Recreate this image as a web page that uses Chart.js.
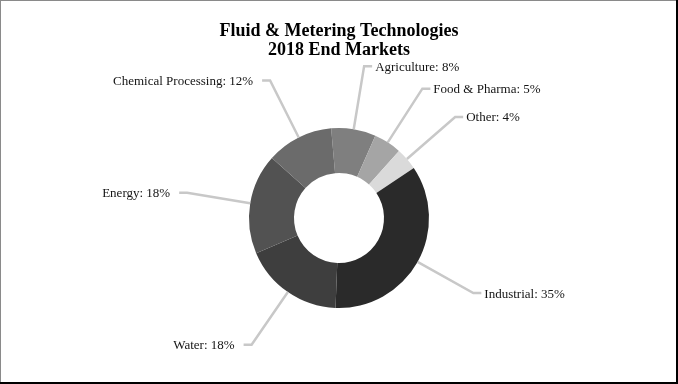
<!DOCTYPE html>
<html>
<head>
<meta charset="utf-8">
<script src="https://cdn.jsdelivr.net/npm/chart.js@4/dist/chart.umd.min.js"></script>
<style>
  html, body { margin: 0; padding: 0; background: #fff; }
  #wrap { width: 678px; height: 384px; position: relative; }
</style>
</head>
<body>
<div id="wrap"><canvas id="c" width="678" height="384"></canvas></div>
<script>
const titleLines = ["Fluid & Metering Technologies", "2018 End Markets"];
const categories = ["Agriculture", "Food & Pharma", "Other", "Industrial", "Water", "Energy", "Chemical Processing"];
const shares = [8, 5, 4, 35, 18, 18, 12];
const sliceColors = ["#7f7f7f", "#a5a5a5", "#dadada", "#2a2a2a", "#3e3e3e", "#525252", "#6b6b6b"];

const leaderPlugin = {
  id: 'leaders',
  afterDatasetsDraw(chart) {
    const ctx = chart.ctx;
    const meta = chart.getDatasetMeta(0);
    ctx.save();
    meta.data.forEach((arc, i) => {
      const p = arc.getProps(['x', 'y', 'startAngle', 'endAngle', 'outerRadius'], true);
      const mid = (p.startAngle + p.endAngle) / 2;
      const c = Math.cos(mid), s = Math.sin(mid);
      const x0 = p.x + p.outerRadius * c, y0 = p.y + p.outerRadius * s;
      const r1 = p.outerRadius * 1.71;
      const x1 = p.x + r1 * c, y1 = p.y + r1 * s;
      const dir = c >= 0 ? 1 : -1;
      const x2 = x1 + dir * 8;
      ctx.strokeStyle = '#c8c8c8';
      ctx.lineWidth = 2.5;
      ctx.lineJoin = 'miter';
      ctx.beginPath();
      ctx.moveTo(x0, y0);
      ctx.lineTo(x1, y1);
      ctx.lineTo(x2, y1);
      ctx.stroke();
      ctx.fillStyle = '#141414';
      ctx.font = '13px "Liberation Serif", "Times New Roman", serif';
      ctx.textBaseline = 'middle';
      ctx.textAlign = dir > 0 ? 'left' : 'right';
      const tx = x2 + dir * (dir > 0 ? 3 : 9);
      ctx.fillText(categories[i] + ': ' + shares[i] + '%', tx, y1 + 1);
    });
    ctx.restore();
  },
  afterDraw(chart) {
    const ctx = chart.ctx;
    const w = chart.width, h = chart.height;
    ctx.save();
    ctx.fillStyle = '#8a8a8a';
    ctx.fillRect(0, 0, w, 1);
    ctx.fillRect(0, 0, 1, h);
    ctx.fillStyle = '#000';
    ctx.fillRect(w - 2, 0, 2, h);
    ctx.fillRect(0, h - 2, w, 2);
    ctx.restore();
  }
};

new Chart(document.getElementById('c'), {
  type: 'doughnut',
  data: {
    labels: categories,
    datasets: [{
      data: shares,
      backgroundColor: sliceColors,
      borderWidth: 0
    }]
  },
  options: {
    responsive: false,
    animation: false,
    rotation: -5,
    cutout: '50%',
    layout: { padding: { top: 0, bottom: 76, left: 0, right: 0 } },
    plugins: {
      legend: { display: false },
      tooltip: { enabled: false },
      title: {
        display: true,
        text: titleLines,
        color: '#000',
        font: { family: '"Liberation Serif", "Times New Roman", serif', size: 18, weight: 'bold', lineHeight: 19 / 18 },
        padding: { top: 22, bottom: 68 }
      }
    }
  },
  plugins: [leaderPlugin]
});
</script>
</body>
</html>
